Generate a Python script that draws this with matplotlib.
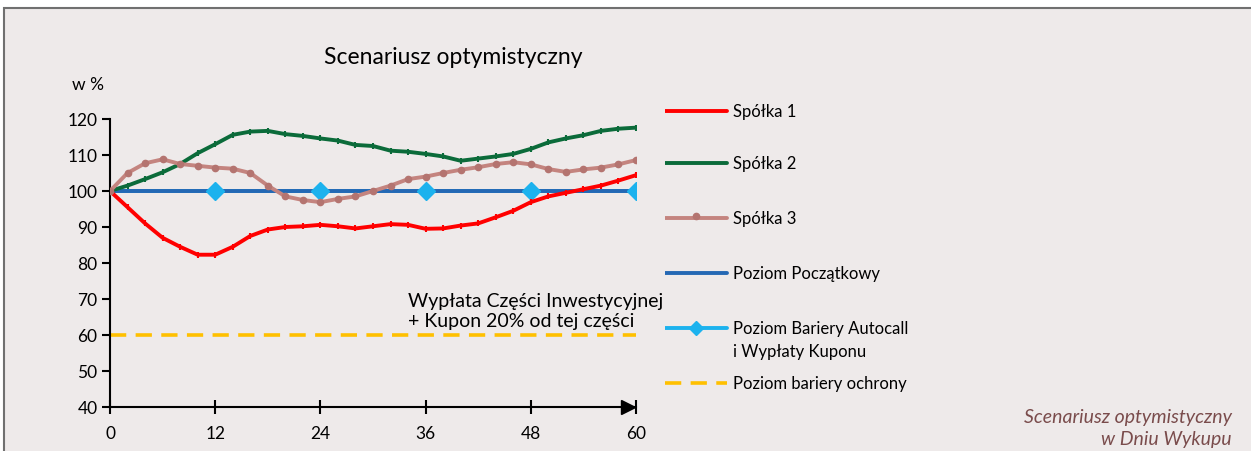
import matplotlib
matplotlib.use('Agg')
import matplotlib.pyplot as plt
from matplotlib.patches import Rectangle

# data (every 2 months)
months = list(range(0, 61, 2))
spolka1 = [100, 95.5, 91, 87, 84.5, 82.3, 82.3, 84.5, 87.5, 89.3, 90, 90.2, 90.6, 90.2, 89.6,
           90.2, 90.8, 90.6, 89.5, 89.6, 90.4, 91, 92.7, 94.5, 96.9, 98.5, 99.5, 100.5, 101.5, 102.9, 104.4]
spolka2 = [100, 101.5, 103.3, 105.2, 107.5, 110.5, 113, 115.6, 116.5, 116.7, 115.8, 115.3, 114.6, 114,
           112.8, 112.5, 111.2, 110.9, 110.3, 109.6, 108.4, 109, 109.6, 110.3, 111.7, 113.5, 114.6, 115.5,
           116.7, 117.3, 117.6]
spolka3 = [100, 105, 107.7, 108.8, 107.5, 107, 106.5, 106.2, 105, 101.5, 98.5, 97.5, 96.9, 97.8, 98.5,
           100, 101.5, 103.3, 104, 105, 105.9, 106.6, 107.5, 108, 107.4, 106.1, 105.3, 106, 106.5, 107.4, 108.6]
poziom_poczatkowy = 100
bariera_months = [0, 12, 24, 36, 48, 60]
bariera = [100, 100, 100, 100, 100, 100]
bariera_ochrony = 60

xticks = [0, 12, 24, 36, 48, 60]
yticks = [40, 50, 60, 70, 80, 90, 100, 110, 120]

legend_labels = ['Spółka 1', 'Spółka 2', 'Spółka 3', 'Poziom Początkowy',
                 'Poziom Bariery Autocall\ni Wypłaty Kuponu', 'Poziom bariery ochrony']

bg = '#EEEAEA'
c_red = '#FF0000'
c_green = '#0B6B3A'
c_pink = '#C4847F'
c_blue = '#2468B4'
c_light = '#1CB2EE'
c_yellow = '#FFC000'

plt.rcParams['font.family'] = ['Lato', 'DejaVu Sans']

fig = plt.figure(figsize=(12.51, 4.52), dpi=100)
fig.patch.set_facecolor('white')
fig.patches.append(Rectangle((4 / 1251, -0.01), 1.0, 1 - 9 / 452 + 0.01, transform=fig.transFigure,
                             facecolor=bg, edgecolor='#707070', linewidth=1.5, zorder=-10))

ax = fig.add_axes([110 / 1251, 44 / 452, 526 / 1251, 288 / 452])
ax.set_facecolor('none')

ax.plot(months, [bariera_ochrony] * len(months), color=c_yellow, lw=2.6, dashes=(4.5, 2.6), zorder=2)
ax.plot(bariera_months, bariera, color=c_light, lw=2.8, zorder=2)
ax.plot(months, [poziom_poczatkowy] * len(months), color=c_blue, lw=2.8, zorder=3)
ax.plot(bariera_months[1:], bariera[1:], linestyle='none', marker='D', ms=9, color=c_light, zorder=4)
ax.plot(months, spolka1, color=c_red, lw=2.8, marker='|', ms=4, mew=1.5, zorder=5)
ax.plot(months, spolka2, color=c_green, lw=2.8, marker='|', ms=4, mew=1.5, zorder=5)
ax.plot(months, spolka3, color=c_pink, lw=2.8, marker='o', ms=4.5, mfc='#B47470', mec='#B47470', zorder=6)

ax.set_xlim(0, 60)
ax.set_ylim(40, 120)
ax.set_xticks(xticks)
ax.set_yticks(yticks)
ax.tick_params(axis='x', direction='inout', length=10, width=1.5, labelsize=12.5, pad=8)
ax.tick_params(axis='y', direction='out', length=6, width=1.5, labelsize=12.5, pad=3)
for s in ['top', 'right']:
    ax.spines[s].set_visible(False)
for s in ['left', 'bottom']:
    ax.spines[s].set_linewidth(1.5)
# arrow head at the end of the time axis
ax.plot(ax.get_xlim()[1] - 0.9, ax.get_ylim()[0], marker='>', ms=10, color='black', clip_on=False, zorder=7)

ax.text(-0.072, 1.12, 'w %', transform=ax.transAxes, fontsize=12.5, ha='left', va='center')
fig.text(453 / 1251, 1 - 58 / 452, 'Scenariusz optymistyczny', fontsize=16.5, ha='center', va='center')
ax.text(34, 66.8, 'Wypłata Części Inwestycyjnej\n+ Kupon 20% od tej części', fontsize=14,
        ha='left', va='center', linespacing=1.25)

# legend drawn in its own axes
lax = fig.add_axes([665 / 1251, 60 / 452, 300 / 1251, 340 / 452])
lax.set_xlim(0, 300)
lax.set_ylim(340, 0)
lax.axis('off')
styles = [
    dict(color=c_red, lw=2.8),
    dict(color=c_green, lw=2.8),
    dict(color=c_pink, lw=2.8),
    dict(color=c_blue, lw=2.8),
    dict(color=c_light, lw=2.8),
    dict(color=c_yellow, lw=2.6, dashes=(4.5, 2.6)),
]
row_y = [60, 112, 167, 222, 277, 332]
for i, (lab, st) in enumerate(zip(legend_labels, styles)):
    y = row_y[i]
    lax.plot([0, 62], [y, y], solid_capstyle='round', **st)
    if i == 2:
        lax.plot(31, y - 2, marker='o', ms=4.5, color='#B47470')
    if i == 4:
        lax.plot(31, y, marker='D', ms=7, color=c_light)
    lax.text(68, y, lab.split('\n')[0], fontsize=12, va='center', ha='left')
    if '\n' in lab:
        lax.text(68, y + 23, lab.split('\n')[1], fontsize=12, va='center', ha='left')

fig.text(1232 / 1251, 1 - 417 / 452, 'Scenariusz optymistyczny', fontsize=14, style='italic',
         color='#7A4C4C', ha='right', va='center')
fig.text(1232 / 1251, 1 - 440 / 452, 'w Dniu Wykupu', fontsize=14, style='italic',
         color='#7A4C4C', ha='right', va='center')

fig.savefig('out.png', dpi=100, facecolor=fig.get_facecolor())
